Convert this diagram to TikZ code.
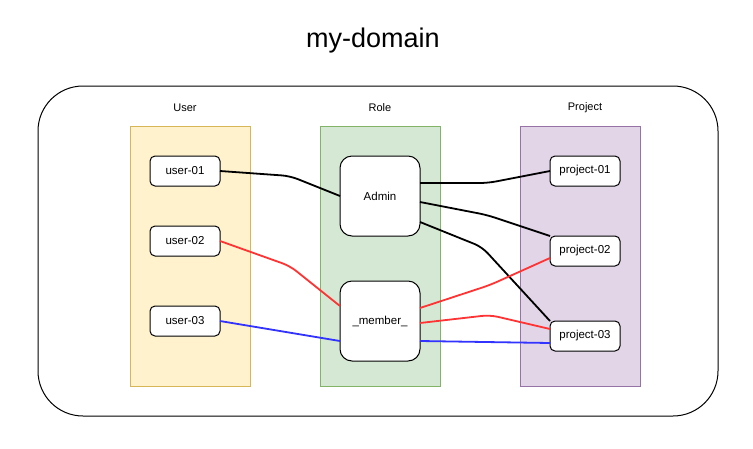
\documentclass[tikz,border=0pt]{standalone}
\usepackage{fontspec}
\setmainfont{Liberation Sans}
\definecolor{ufill}{HTML}{FFF2CC}
\definecolor{udraw}{HTML}{D6B656}
\definecolor{rfill}{HTML}{D5E8D4}
\definecolor{rdraw}{HTML}{82B366}
\definecolor{pfill}{HTML}{E1D5E7}
\definecolor{pdraw}{HTML}{9673A6}
\definecolor{ered}{HTML}{FF3333}
\definecolor{eblue}{HTML}{3333FF}
\begin{document}
\begin{tikzpicture}[x=1pt,y=-1pt,
  colbox/.style={draw, line width=0.8pt, minimum width=120pt, minimum height=260pt, inner sep=0pt, outer sep=0pt},
  item/.style={draw, fill=white, line width=1pt, rounded corners=5pt, minimum width=70pt, minimum height=30pt, inner sep=0pt, outer sep=0pt, font=\fontsize{11.5}{13}\selectfont},
  rolebox/.style={draw, fill=white, line width=1pt, rounded corners=12pt, minimum width=80pt, minimum height=80pt, inner sep=0pt, outer sep=0pt, font=\fontsize{11.5}{13}\selectfont},
  collabel/.style={font=\fontsize{11}{13}\selectfont},
  edge/.style={line width=1.8pt, rounded corners=8pt}
]
\useasboundingbox (0,0) rectangle (753,448);
\node[font=\fontsize{27}{31}\selectfont] (title) at (373,41) {my-domain};
\node[draw, line width=1pt, rounded corners=45pt, minimum width=680pt, minimum height=330pt, inner sep=0pt] (outer) at (378,251) {};
\node[colbox, fill=ufill, draw=udraw] (ucol) at (190,256) {};
\node[colbox, fill=rfill, draw=rdraw] (rcol) at (380,256) {};
\node[colbox, fill=pfill, draw=pdraw] (pcol) at (580,256) {};
\node[collabel] (ulab) at (185,108) {User};
\node[collabel] (rlab) at (380,108) {Role};
\node[collabel] (plab) at (585,108) {Project};
\node[item] (u1) at (185,171) {user-01};
\node[item] (u2) at (185,241) {user-02};
\node[item] (u3) at (185,321) {user-03};
\node[rolebox] (admin) at (380,196) {Admin};
\node[rolebox] (member) at (380,321) {\_member\_};
\node[item] (p1) at (585,171) {project-01};
\node[item] (p2) at (585,251) {project-02};
\node[item] (p3) at (585,336) {project-03};
\draw[edge] (u1.east) -- (290,176) -- (admin.west);
\draw[edge, ered] (u2.east) -- (290,266) -- ([yshift=15pt]member.west);
\draw[edge, eblue] (u3.east) -- ([yshift=-20pt]member.west);
\draw[edge] ([yshift=13pt]admin.east) -- (488,183) -- (p1.west);
\draw[edge] ([yshift=-6pt]admin.east) -- (487,215) -- (p2.north west);
\draw[edge] ([yshift=-26pt]admin.east) -- (482,247) -- (p3.north west);
\draw[edge, ered] ([yshift=13pt]member.east) -- (490,285) -- ([yshift=-7pt]p2.west);
\draw[edge, ered] ([yshift=-2pt]member.east) -- (490,315) -- ([yshift=7pt]p3.west);
\draw[edge, eblue] ([yshift=-20pt]member.east) -- ([yshift=-7pt]p3.west);
\end{tikzpicture}
\end{document}
